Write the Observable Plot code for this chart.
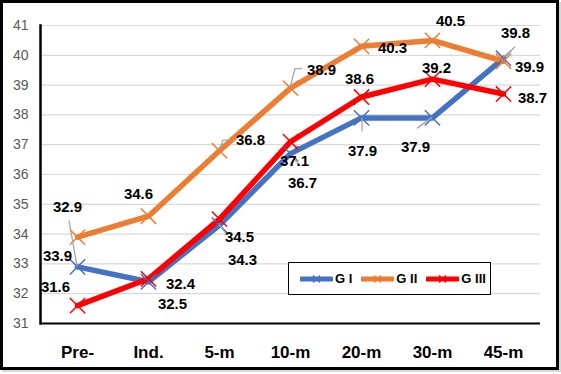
<!DOCTYPE html>
<html>
<head>
<meta charset="utf-8">
<script src="https://cdn.jsdelivr.net/npm/d3@7"></script>
<script src="https://cdn.jsdelivr.net/npm/@observablehq/plot@0.6"></script>
<style>
  html, body { margin: 0; padding: 0; background: #fff; }
  #wrap { position: relative; width: 561px; height: 374px; overflow: hidden; }
  #border { position: absolute; left: 0; top: 0; width: 559px; height: 370px; box-sizing: border-box;
            border: 3px solid #000; pointer-events: none; box-shadow: 2px 2px 0 #d8d8d8; }
  #legend { position: absolute; left: 288px; top: 262px; width: 203px; height: 33px; box-sizing: border-box;
            border: 1.3px solid #000; background: #fff; display: flex; align-items: center; white-space: nowrap;
            font-family: "Liberation Sans", sans-serif;
            font-weight: bold; font-size: 13px; color: #000; padding-left: 11px; }
  .item { display: flex; align-items: center; margin-right: 9px; white-space: nowrap; flex: none; }
  .item svg { margin-right: 2px; }
</style>
</head>
<body>
<div id="wrap">
  <div id="chart"></div>
  <div id="legend"></div>
  <div id="border"></div>
</div>
<script>
const categories = ["Pre-", "Ind.", "5-m", "10-m", "20-m", "30-m", "45-m"];
const seriesNames = ["G I", "G II", "G III"];
const gI   = [32.9, 32.4, 34.3, 36.7, 37.9, 37.9, 39.9];
const gII  = [33.9, 34.6, 36.8, 38.9, 40.3, 40.5, 39.8];
const gIII = [31.6, 32.5, 34.5, 37.1, 38.6, 39.2, 38.7];
const yTicks = [31, 32, 33, 34, 35, 36, 37, 38, 39, 40, 41];

const colors = ["#4472C4", "#ED7D31", "#FF0000"];
const values = [gI, gII, gIII];

// label offsets in pixels (dx, dy) relative to each point
const labelOffsets = [
  [[-10,-60],[32,2],[23,35],[12,30],[1,33],[-17,29],[26,9]],
  [[-20,19],[-10,-22],[31,-10],[31,-18],[31,2],[18,-19],[12,-28]],
  [[-22,-18],[24,25],[20,18],[4,19],[-2,-18],[4,-11],[29,4]]
];
// leader lines: [series index, category index, polyline pixel offsets]
const leaders = [
  [0, 0, [[0,0],[-8,-46]]],
  [1, 2, [[0,0],[4,-10],[11,-10]]],
  [1, 3, [[0,0],[5,-19],[12,-19]]],
  [0, 2, [[0,0],[7,9]]],
  [0, 3, [[2,2],[9,12]]],
  [0, 4, [[1,0],[1,14]]],
  [0, 5, [[0,0],[-15,11]]],
  [0, 6, [[0,0],[12,-11]]]
];

const rows = [];
values.forEach((vals, s) => vals.forEach((v, i) => rows.push({series: seriesNames[s], s, i, cat: categories[i], value: v})));

const font = '"Liberation Sans", sans-serif';

const labelMarks = rows.map(r => Plot.text([r], {
  x: "cat", y: "value", text: d => d.value.toFixed(1),
  dx: labelOffsets[r.s][r.i][0], dy: labelOffsets[r.s][r.i][1],
  fill: "#000", fontWeight: "bold", fontSize: 15, textAnchor: "middle"
}));

const leaderMark = (index, scales) => {
  const g = d3.create("svg:g");
  for (const [s, i, pts] of leaders) {
    const px = scales.x(categories[i]);
    const py = scales.y(values[s][i]);
    g.append("polyline")
      .attr("points", pts.map(([dx, dy]) => `${px + dx},${py + dy}`).join(" "))
      .attr("fill", "none").attr("stroke", "#a6a6a6").attr("stroke-width", 1.3);
  }
  return g.node();
};

const chart = Plot.plot({
  width: 561, height: 374,
  marginLeft: 40, marginRight: 21, marginTop: 25, marginBottom: 51,
  style: {fontFamily: font, background: "transparent", overflow: "visible"},
  x: {type: "point", domain: categories, padding: 0.5},
  y: {domain: [31, 41]},
  marks: [
    Plot.ruleY(yTicks.slice(1), {stroke: "#d9d9d9", strokeWidth: 1.2}),
    ...seriesNames.map((name, s) => Plot.line(rows.filter(r => r.s === s), {
      x: "cat", y: "value", stroke: colors[s], strokeWidth: 5.5, curve: "linear", strokeLinejoin: "round"
    })),
    ...seriesNames.map((name, s) => Plot.dot(rows.filter(r => r.s === s), {
      x: "cat", y: "value", symbol: "times", r: 7, stroke: colors[s], strokeWidth: 1.5, fill: "none"
    })),
    leaderMark,
    ...labelMarks,
    Plot.ruleY([31], {stroke: "#000", strokeWidth: 2.2}),
    Plot.frame({anchor: "left", stroke: "#000", strokeWidth: 2.5}),
    Plot.axisY({ticks: yTicks, tickSize: 0, tickPadding: 12, fontSize: 14, fill: "#595959", tickFormat: d => String(d), label: null}),
    Plot.axisX({tickSize: 0, tickPadding: 22, fontSize: 17, fontWeight: "bold", fill: "#000", label: null})
  ]
});
document.getElementById("chart").appendChild(chart);

// legend
const legend = document.getElementById("legend");
seriesNames.forEach((name, s) => {
  const item = document.createElement("div");
  item.className = "item";
  const svg = d3.create("svg").attr("width", 33).attr("height", 12);
  svg.append("line").attr("x1", 1).attr("x2", 32).attr("y1", 6).attr("y2", 6)
    .attr("stroke", colors[s]).attr("stroke-width", 5).attr("stroke-linecap", "round");
  svg.append("path").attr("d", "M13,2.5L20,9.5M20,2.5L13,9.5").attr("stroke", colors[s]).attr("stroke-width", 1.2);
  item.appendChild(svg.node());
  const t = document.createElement("span");
  t.textContent = name;
  item.appendChild(t);
  legend.appendChild(item);
});
</script>
</body>
</html>
